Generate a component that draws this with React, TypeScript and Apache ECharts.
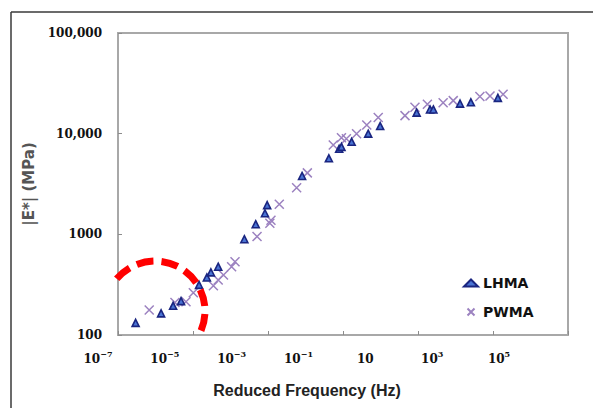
import React, { useEffect, useRef } from 'react';
import * as echarts from 'echarts';

// Reduced frequency (Hz) and |E*| (MPa)
const lhmaFrequency = [
  2.95e-7, 1.41e-6, 2.95e-6, 4.8e-6, 1.45e-5, 2.34e-5, 3.0e-5, 4.7e-5,
  2.34e-4, 4.7e-4, 8.3e-4, 9.5e-4, 8.1e-3, 0.042, 0.079, 0.091,
  0.17, 0.47, 0.98, 9.2, 20.9, 25.7, 132, 257, 1350,
];
const lhmaModulus = [
  132, 164, 195, 217, 315, 373, 419, 477,
  895, 1260, 1620, 1950, 3800, 5690, 7080, 7400,
  8300, 10000, 11900, 16200, 17400, 17400, 19900, 20500, 22700,
];
const pwmaFrequency = [
  6.8e-7, 3.3e-6, 6.5e-6, 1.02e-5, 3.5e-5, 4.7e-5, 6.5e-5, 1.07e-4, 1.32e-4,
  5.1e-4, 1.12e-3, 1.2e-3, 2.0e-3, 5.8e-3, 0.0112, 0.055, 0.091, 0.123,
  0.23, 0.43, 0.87, 4.5, 8.3, 17.8, 46.8, 87, 447, 832, 1860,
];
const pwmaModulus = [
  177, 210, 214, 263, 309, 352, 394, 477, 535,
  950, 1290, 1380, 1990, 2900, 4080, 7700, 9100, 8900,
  10000, 12200, 14500, 15100, 18300, 19600, 20300, 21300, 23400, 23700, 24600,
];
const xTickExponents = [-7, -5, -3, -1, 1, 3, 5];
const yTickValues = [100, 1000, 10000, 100000];
const yTickLabels = ['100', '1000', '10,000', '100,000'];

const serif = 'DejaVu Serif';
const sans = 'DejaVu Sans';

export default function App() {
  const ref = useRef<HTMLDivElement>(null);
  useEffect(() => {
    if (!ref.current) return;
    const chart = echarts.init(ref.current, null, { renderer: 'svg' });
    const toXY = (fs: number[], es: number[]) => fs.map((f, i) => [Math.log10(f), Math.log10(es[i])]);
    const xFormatter = (v: number) => {
      const e = xTickExponents.find((x) => x === Math.round(v));
      if (e === undefined) return '';
      if (e === 1) return '{b|10}';
      return `{b|10}{s|${e < 0 ? '\u2212' + Math.abs(e) : e}}`;
    };
    const yFormatter = (v: number) => {
      const i = yTickValues.findIndex((t) => Math.round(Math.log10(t)) === Math.round(v));
      return i >= 0 ? yTickLabels[i] : '';
    };
    const hiddenAxis = {
      axisLine: { show: false, onZero: false }, axisTick: { show: false }, splitLine: { show: false },
    };
    chart.setOption({
      animation: false,
      backgroundColor: '#ffffff',
      grid: [
        { left: 118, top: 33, width: 450, height: 302, show: true, borderColor: '#a8a8a8', borderWidth: 2 },
        { left: 98, top: 33, width: 401, height: 302 },
        { left: 222, top: 33, width: 170, height: 302 },
      ],
      xAxis: [
        {
          gridIndex: 0, type: 'value', min: -7, max: 5, interval: 2,
          axisLine: { show: true, onZero: false, lineStyle: { color: '#a8a8a8', width: 2 } },
          axisTick: { show: true, inside: true, length: 4, lineStyle: { color: '#8c8c8c' } },
          axisLabel: { show: false }, splitLine: { show: false },
        },
        {
          gridIndex: 1, type: 'value', min: -7, max: 5, interval: 2,
          ...hiddenAxis,
          axisLabel: {
            margin: 15, formatter: xFormatter,
            rich: {
              b: { fontFamily: serif, fontWeight: 'bold', fontSize: 12, color: '#111', lineHeight: 15, verticalAlign: 'bottom' },
              s: { fontFamily: serif, fontWeight: 'bold', fontSize: 8, color: '#111', lineHeight: 15, verticalAlign: 'top' },
            },
          },
        },
        {
          gridIndex: 2, type: 'value', min: 0, max: 1,
          ...hiddenAxis,
          axisLabel: { show: false },
          name: 'Reduced Frequency (Hz)', nameLocation: 'middle', nameGap: 47,
          nameTextStyle: { fontFamily: 'Liberation Sans', fontWeight: 'bold', fontSize: 16, color: '#222' },
        },
      ],
      yAxis: [
        {
          gridIndex: 0, type: 'value', min: 2, max: 5, interval: 1,
          axisLine: { show: true, onZero: false, lineStyle: { color: '#a8a8a8', width: 2 } },
          axisTick: { show: true, inside: true, length: 4, lineStyle: { color: '#8c8c8c' } },
          splitLine: { show: false },
          axisLabel: { margin: 16, formatter: yFormatter, fontFamily: serif, fontWeight: 'bold', fontSize: 12, color: '#111' },
          name: '|E*| (MPa)', nameLocation: 'middle', nameGap: 74,
          nameTextStyle: { fontFamily: sans, fontWeight: 'bold', fontSize: 15, color: '#555' },
        },
        { gridIndex: 1, type: 'value', min: 2, max: 5, show: false },
        { gridIndex: 2, type: 'value', min: 0, max: 1, show: false },
      ],
      legend: {
        orient: 'vertical', left: 458, top: 271, itemWidth: 14, itemHeight: 7, itemGap: 15,
        textStyle: { fontFamily: sans, fontWeight: 'bold', fontSize: 14, color: '#111' },
        data: ['LHMA', 'PWMA'],
      },
      series: [
        {
          type: 'scatter', name: 'LHMA', xAxisIndex: 0, yAxisIndex: 0,
          data: toXY(lhmaFrequency, lhmaModulus),
          symbol: 'triangle', symbolSize: 7,
          itemStyle: { color: '#4a74d4', borderColor: '#1a2580', borderWidth: 1.6, opacity: 1 },
          z: 3,
        },
        {
          type: 'scatter', name: 'PWMA', xAxisIndex: 0, yAxisIndex: 0,
          data: toXY(pwmaFrequency, pwmaModulus),
          symbol: 'path://M0,0L10,10M10,0L0,10', symbolSize: 9,
          itemStyle: { color: '#9c82c0', borderColor: '#9c82c0', borderWidth: 1.5, opacity: 1 },
          z: 2,
        },
      ],
      graphic: [
        { type: 'line', shape: { x1: 11, y1: 12, x2: 593, y2: 12 }, style: { stroke: '#3a3a3a', lineWidth: 1.5 } },
        { type: 'line', shape: { x1: 11, y1: 12, x2: 11, y2: 408 }, style: { stroke: '#3a3a3a', lineWidth: 1.5 } },
        {
          type: 'arc', z: 10,
          shape: { cx: 155, cy: 311, r: 50, startAngle: (220 * Math.PI) / 180, endAngle: (390 * Math.PI) / 180, clockwise: true },
          style: { stroke: '#ff0000', lineWidth: 7, lineDash: [17, 8], fill: null },
        },
      ],
    });
    return () => chart.dispose();
  }, []);
  return <div ref={ref} style={{ position: 'absolute', left: 0, top: 0, width: 593, height: 408, background: '#fff' }} />;
}
